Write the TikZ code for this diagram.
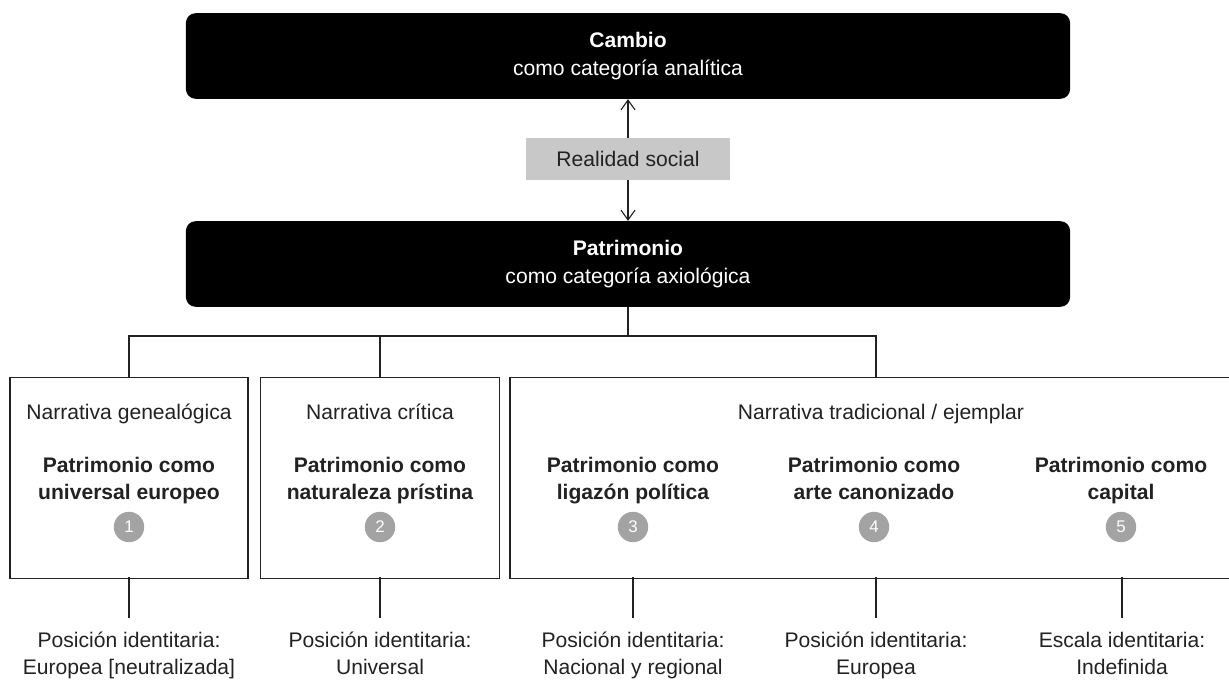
\documentclass[tikz,border=0pt]{standalone}
\usepackage{fontspec}
\setmainfont{Liberation Sans}
\usetikzlibrary{positioning,arrows.meta}
\definecolor{grisclaro}{HTML}{C8C8C8}
\definecolor{grisnumero}{HTML}{A3A3A3}
\definecolor{tinta}{HTML}{222222}
\begin{document}
\begin{tikzpicture}[x=0.025cm,y=-0.025cm,
	font=\fontsize{15}{19.5}\selectfont,
	cajanegra/.style={fill=black,text=white,rounded corners=7pt,minimum width=22.1cm,minimum height=2.14cm,align=center},
	caja/.style={draw=tinta,line width=0.9pt,minimum height=5.02cm,anchor=north},
	texto/.style={align=center,text=tinta},
	numero/.style={circle,fill=grisnumero,text=white,minimum size=0.76cm,inner sep=0pt,font=\fontsize{12}{12}\selectfont},
	linea/.style={draw=tinta,line width=0.8pt},
	flecha/.style={linea,-{Straight Barb[length=7pt,width=10pt]}}]
	\useasboundingbox (0,0) rectangle (1229,682);
	\clip (0,0) rectangle (1229,682);
	% les categories
	\node[cajanegra] (cambio) at (628,56) {\textbf{Cambio}\\como categoría analítica};
	\node[fill=grisclaro,text=tinta,minimum width=5.12cm,minimum height=1.05cm] (realidad) at (628,159) {Realidad social};
	\node[cajanegra] (patrimonio) at (628,264) {\textbf{Patrimonio}\\como categoría axiológica};
	\draw[flecha] (realidad) -- (cambio);
	\draw[flecha] (realidad) -- (patrimonio);
	% les narratives
	\node[caja,minimum width=5.95cm] (caja1) at (129,377) {};
	\node[caja,minimum width=5.97cm] (caja2) at (380,377) {};
	\node[caja,minimum width=18.3cm] (caja3) at (876,377) {};
	\coordinate (rama) at (628,336);
	\draw[linea] (patrimonio.south) -- (rama);
	\draw[linea] (caja1.north) |- (rama) -| (caja3.north);
	\draw[linea] (caja2.north) -- (caja2.north |- rama);
	\node[texto,anchor=base] (titulo1) at (129,419) {Narrativa genealógica};
	\node[texto,anchor=base] (titulo2) at (380,419) {Narrativa crítica};
	\node[texto,anchor=base] (titulo3) at (881,419) {Narrativa tradicional / ejemplar};
	% les patrimoines
	\foreach \x/\n/\txt in {129/1/{Patrimonio como\\universal europeo},
		380/2/{Patrimonio como\\naturaleza prístina},
		633/3/{Patrimonio como\\ligazón política},
		874/4/{Patrimonio como\\arte canonizado},
		1121/5/{Patrimonio como\\capital}}{
		\node[texto,anchor=north,font=\fontsize{15}{19.5}\selectfont\bfseries] (pat\n) at (\x,452) {\txt};
		\node[numero] (num\n) at (\x,527) {\n};
	}
	% les positions
	\foreach \x/\n/\txt in {129/1/{Posición identitaria:\\Europea [neutralizada]},
		380/2/{Posición identitaria:\\Universal},
		633/3/{Posición identitaria:\\Nacional y regional},
		876/4/{Posición identitaria:\\Europea},
		1122/5/{Escala identitaria:\\Indefinida}}{
		\coordinate (bajo\n) at (\x,577);
		\node[texto,anchor=north] (pos\n) at (\x,627) {\txt};
		\draw[linea] (bajo\n) -- (\x,618);
	}
\end{tikzpicture}
\end{document}
